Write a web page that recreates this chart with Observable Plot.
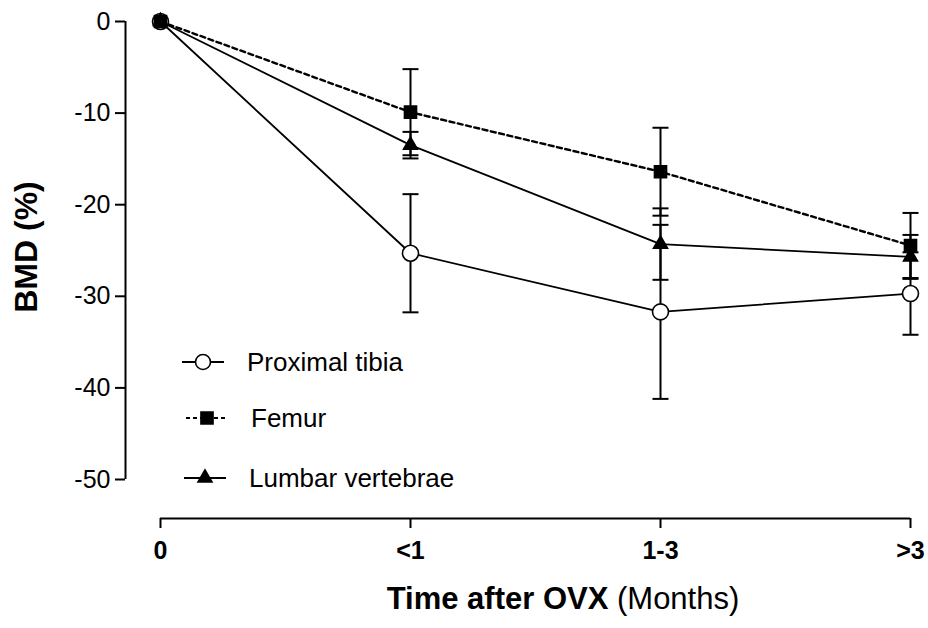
<!DOCTYPE html>
<html>
<head>
<meta charset="utf-8">
<script src="https://cdn.jsdelivr.net/npm/d3@7"></script>
<script src="https://cdn.jsdelivr.net/npm/@observablehq/plot@0.6"></script>
<style>
  html, body { margin: 0; padding: 0; background: #fff; }
  #chart svg { display: block; }
</style>
</head>
<body>
<div id="chart"></div>
<script>
// ---- data ----
const timeLabels = ["0", "<1", "1-3", ">3"];
const seriesNames = ["Proximal tibia", "Femur", "Lumbar vertebrae"];
const tibiaMean  = [0, -25.3, -31.7, -29.7];
const tibiaSD    = [0, 6.45, 9.5, 4.5];
const femurMean  = [0, -9.9, -16.4, -24.45];
const femurSD    = [0, 4.7, 4.8, 3.55];
const lumbarMean = [0, -13.5, -24.3, -25.7];
const lumbarSD   = [0, 1.45, 3.9, 2.4];
const yTicks = [0, -10, -20, -30, -40, -50];
const xTicks = [0, 1, 2, 3];
const yTitle = "BMD (%)";
const xTitleBold = "Time after OVX";
const xTitleRest = "(Months)";

// ---- build table ----
const means = [tibiaMean, femurMean, lumbarMean];
const sds = [tibiaSD, femurSD, lumbarSD];
const rows = [];
seriesNames.forEach((s, k) => {
  timeLabels.forEach((t, i) => {
    rows.push({series: s, i, mean: means[k][i], sd: sds[k][i]});
  });
});
const bars = rows.filter(d => d.sd > 0);

const font = "'Liberation Sans', Arial, sans-serif";
const capSymbol = {
  draw(ctx, size) {
    const r = Math.sqrt(size / Math.PI);
    ctx.moveTo(-r, 0);
    ctx.lineTo(r, 0);
  }
};
const symbolOf = {"Proximal tibia": "circle", "Femur": "square", "Lumbar vertebrae": "triangle"};
const rOf = {"Proximal tibia": 8, "Femur": 6.8, "Lumbar vertebrae": 5.2};
const fillOf = {"Proximal tibia": "white", "Femur": "black", "Lumbar vertebrae": "black"};
const dashOf = {"Proximal tibia": null, "Femur": "5,3.5", "Lumbar vertebrae": null};
const widthOf = {"Proximal tibia": 1.8, "Femur": 2.4, "Lumbar vertebrae": 1.8};

const marks = [
  // axes
  Plot.axisY(yTicks, {anchor: "left", tickSize: 10, tickPadding: 5, tickFormat: d => String(d),
    fontSize: 25, strokeWidth: 2, label: null}),
  Plot.ruleX([0], {y1: -50, y2: 0, dx: -35, strokeWidth: 2}),
  Plot.axisX(xTicks, {anchor: "bottom", tickSize: 10, tickPadding: 13, tickFormat: i => timeLabels[i],
    fontSize: 25, fontWeight: "bold", strokeWidth: 2, label: null}),
  Plot.ruleY([-50], {x1: 0, x2: 3, dy: 39, strokeWidth: 2}),
  // error bars
  Plot.ruleX(bars, {x: "i", y1: d => d.mean - d.sd, y2: d => d.mean + d.sd, strokeWidth: 2}),
  Plot.dot(bars, {x: "i", y: d => d.mean + d.sd, symbol: capSymbol, r: 8, stroke: "black", strokeWidth: 2}),
  Plot.dot(bars, {x: "i", y: d => d.mean - d.sd, symbol: capSymbol, r: 8, stroke: "black", strokeWidth: 2}),
];
seriesNames.forEach(s => {
  marks.push(Plot.line(rows.filter(d => d.series === s), {x: "i", y: "mean", stroke: "black",
    strokeWidth: widthOf[s], strokeDasharray: dashOf[s]}));
});
seriesNames.forEach(s => {
  marks.push(Plot.dot(rows.filter(d => d.series === s), {x: "i", y: "mean", symbol: symbolOf[s],
    r: rOf[s], fill: fillOf[s], stroke: "black", strokeWidth: 1.6}));
});

const chart = Plot.plot({
  width: 928,
  height: 628,
  marginLeft: 125,
  marginRight: 18,
  marginTop: 21,
  marginBottom: 110,
  style: {fontFamily: font, color: "black", background: "white"},
  x: {domain: [0, 3], insetLeft: 35, axis: null},
  y: {domain: [-50, 0], insetBottom: 39, axis: null},
  marks
});
document.getElementById("chart").appendChild(chart);

// ---- titles and legend (drawn into the same SVG) ----
const svg = d3.select(chart);
svg.append("text")
  .attr("transform", "translate(37,247) rotate(-90)")
  .attr("text-anchor", "middle")
  .attr("font-family", font).attr("font-size", 32).attr("font-weight", "bold")
  .attr("fill", "black")
  .text(yTitle);
const xt = svg.append("text")
  .attr("x", 563).attr("y", 609)
  .attr("text-anchor", "middle")
  .attr("font-family", font).attr("font-size", 31)
  .attr("fill", "black");
xt.append("tspan").attr("font-weight", "bold").text(xTitleBold + " ");
xt.append("tspan").text(xTitleRest);

const legendY = [362, 418, 478];
const legendX0 = [182, 186, 184];
const legendX1 = [224, 228, 226];
const legendMX = [203, 207, 205];
const legendTX = [247, 251, 249];
seriesNames.forEach((s, k) => {
  const g = svg.append("g");
  g.append("line")
    .attr("x1", legendX0[k]).attr("x2", legendX1[k])
    .attr("y1", legendY[k]).attr("y2", legendY[k])
    .attr("stroke", "black").attr("stroke-width", 1.8)
    .attr("stroke-dasharray", dashOf[s] ? "4,3" : null);
  const symType = {circle: d3.symbolCircle, square: d3.symbolSquare, triangle: d3.symbolTriangle}[symbolOf[s]];
  const r = s === "Proximal tibia" ? 7.5 : rOf[s];
  g.append("path")
    .attr("transform", `translate(${legendMX[k]},${legendY[k]})`)
    .attr("d", d3.symbol(symType, Math.PI * r * r)())
    .attr("fill", fillOf[s]).attr("stroke", "black").attr("stroke-width", 1.6);
  g.append("text")
    .attr("x", legendTX[k]).attr("y", legendY[k])
    .attr("dy", "0.35em")
    .attr("text-anchor", "start")
    .attr("font-family", font).attr("font-size", 26)
    .attr("fill", "black")
    .text(s);
});
</script>
</body>
</html>
